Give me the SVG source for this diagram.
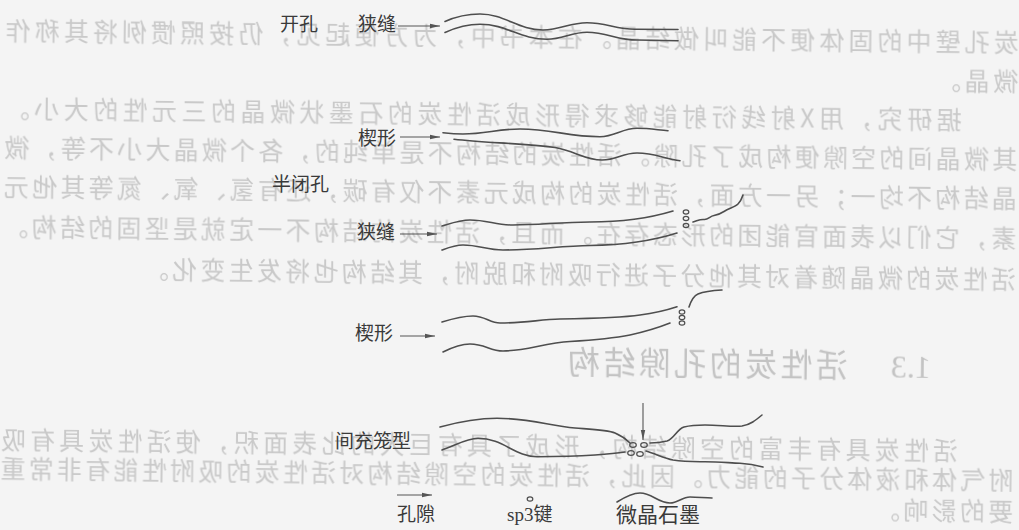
<svg xmlns="http://www.w3.org/2000/svg" width="1019" height="530" viewBox="0 0 1019 530">
  <defs>
    <marker id="ah" markerUnits="userSpaceOnUse" markerWidth="10" markerHeight="6" refX="10" refY="3" orient="auto">
      <path d="M0,0.8 L10,3 L0,5.2 Z" fill="#555"/>
    </marker>
    <filter id="soft" x="-5%" y="-5%" width="110%" height="110%">
      <feGaussianBlur stdDeviation="0.5"/>
    </filter>
  </defs>
  <style>
    .page{fill:#f4f4f4}
    .ghost{font-family:"Noto Sans CJK SC","Liberation Serif",sans-serif;font-size:25px;fill:#c9c9c9}
    .ghead{font-family:"Liberation Serif","Noto Sans CJK SC",serif;font-size:32px;fill:#c3c3c3}
    .sheet{fill:none;stroke:#4e4e4e;stroke-width:1.6;stroke-linecap:round}
    .bond{fill:none;stroke:#4e4e4e;stroke-width:1.2}
    .lbl{font-family:"Liberation Serif","Noto Sans CJK SC",serif;font-size:19px;fill:#3a3a3a}
    .arr{fill:none;stroke:#555;stroke-width:1.1;marker-end:url(#ah)}
  </style>

  <rect class="page" x="0" y="0" width="1019" height="530"/>

  <!-- show-through of the reverse side of the page (mirrored, slightly tilted) -->
  <g id="reverse-page" filter="url(#soft)" transform="rotate(0.67 509.5 265) matrix(-1 0 0 1 1019 0)">
    <text class="ghost" x="3" y="45.5" textLength="1013" lengthAdjust="spacing">炭孔壁中的固体便不能叫做结晶。在本书中，为方便起见，仍按照惯例将其称作</text>
    <text class="ghost" x="3" y="84.5" textLength="82" lengthAdjust="spacing">微晶。</text>
    <text class="ghost" x="59" y="123.5" textLength="957" lengthAdjust="spacing">据研究，用X射线衍射能够求得形成活性炭的石墨状微晶的三元性的大小。</text>
    <text class="ghost" x="3" y="162.5" textLength="1013" lengthAdjust="spacing">其微晶间的空隙便构成了孔隙。活性炭的结构不是单纯的，各个微晶大小不等，微</text>
    <text class="ghost" x="3" y="201.5" textLength="1013" lengthAdjust="spacing">晶结构不均一；另一方面，活性炭的构成元素不仅有碳，还有氢、氧、氮等其他元</text>
    <text class="ghost" x="3" y="241.5" textLength="1013" lengthAdjust="spacing">素，它们以表面官能团的形态存在。而且，活性炭的结构不一定就是坚固的结构。</text>
    <text class="ghost" x="3" y="282.5" textLength="872" lengthAdjust="spacing">活性炭的微晶随着对其他分子进行吸附和脱附，其结构也将发生变化。</text>
    <text class="ghead" x="87" y="373">1.3</text>
    <text class="ghead" x="170" y="373" textLength="280" lengthAdjust="spacing">活性炭的孔隙结构</text>
    <text class="ghost" x="59" y="454.5" textLength="957" lengthAdjust="spacing">活性炭具有丰富的空隙结构，形成了具有巨大的比表面积，使活性炭具有吸</text>
    <text class="ghost" x="3" y="483.5" textLength="1013" lengthAdjust="spacing">附气体和液体分子的能力。因此，活性炭的空隙结构对活性炭的吸附性能有非常重</text>
    <text class="ghost" x="3" y="514.5" textLength="138" lengthAdjust="spacing">要的影响。</text>
  </g>

  <!-- category headings -->
  <text class="lbl" x="280" y="31">开孔</text>
  <text class="lbl" x="272" y="191">半闭孔</text>

  <!-- open pore, slit -->
  <g id="open-slit">
    <text class="lbl" x="358" y="31">狭缝</text>
    <path class="sheet" d="M445,21.5 C455,17 468,14 480,14 C505,14 518,30 543,30 C561,30 569,22.7 587,22.7 C606,22.7 616,29.3 635,29.3 L678,29.5"/>
    <path class="sheet" d="M445,32.5 C455,28 468,24.3 480,24.3 C507,24.3 520,39.3 547,39.3 C563,39.3 571,32.3 587,32.3 C607,32.3 617,40 637,40 L678,40.7"/>
  </g>

  <!-- open pore, wedge -->
  <g id="open-wedge">
    <text class="lbl" x="358" y="145">楔形</text>
    <path class="sheet" d="M443,132.7 C450,133.5 456,134 463,134 C486,134 497,129 520,129 C552,129 568,136.7 600,136.7 C615,136.7 622,128.3 637,128.3 C650,128.3 658,130 668,130.7"/>
    <path class="sheet" d="M454,139.3 C485,143 520,143 555,147.5 C575,151 585,160 602,160 C617,160 622,153 637,153 C655,153 665,159 680,160.7"/>
  </g>

  <!-- semi-closed pore, slit -->
  <g id="semi-slit">
    <text class="lbl" x="357" y="239">狭缝</text>
    <path class="sheet" d="M442,226 C452,223 460,220 470,220 C487,220 496,225 513,225 C540,225 560,222 590,222 C620,222 650,218 673,211"/>
    <path class="sheet" d="M442,250 C450,247 455,245 463,245 C479,245 487,250 503,250 C535,250 560,246 590,245.5 C625,245 655,240 677,233"/>
    <ellipse class="bond" cx="686" cy="212" rx="2.8" ry="2.1"/>
    <ellipse class="bond" cx="686" cy="218.5" rx="2.8" ry="2.1"/>
    <ellipse class="bond" cx="686" cy="225.5" rx="2.8" ry="2.1"/>
    <path class="sheet" d="M693,222 C697,221 700,219 704,219.5 C708,220 710,216 714,215.5 C718,215 720,214 724,211.5 C730,208 735,207 738,204 C741,201 742,198 743,195"/>
  </g>

  <!-- semi-closed pore, wedge -->
  <g id="semi-wedge">
    <text class="lbl" x="355" y="340">楔形</text>
    <path class="sheet" d="M442,322 C455,318 463,316 473,316 C485,316 490,323 500,323 C525,323 540,319.5 560,319 C590,318.5 620,318 640,315 C655,313 667,310 677,306.7"/>
    <path class="sheet" d="M443,352 C453,347 461,344 470,344 C485,344 490,351 503,351 C525,351 545,343 570,341.5 C595,340 615,338 630,335 C648,331 660,327 670,323"/>
    <ellipse class="bond" cx="682" cy="312" rx="2.8" ry="2.1"/>
    <ellipse class="bond" cx="682" cy="317.5" rx="2.8" ry="2.1"/>
    <ellipse class="bond" cx="682" cy="323" rx="2.8" ry="2.1"/>
    <path class="sheet" d="M689,307 C691,301 693,296 698,294 C704,291.5 712,290.5 722,290"/>
  </g>

  <!-- interstitial cage -->
  <g id="interstitial-cage">
    <text class="lbl" x="335" y="448">间充笼型</text>
    <path class="sheet" d="M440,427 C462,421 480,418.3 497,418.3 C530,418.3 550,426 575,428 C595,429.5 608,430 615,433 C622,436 627,440 630,443"/>
    <path class="sheet" d="M442,450 C458,444 468,438.3 478,438.3 C503,438.3 515,456.7 537,456.7 C560,456.7 580,456 595,455 C608,454 618,453 625,452"/>
    <path class="sheet" d="M650,443 C658,443 663,442 667,441 C674,439 677,429 684,427 C692,425 698,425 705,425 C720,425 732,427 742,426 C750,425 756,420 762,415"/>
    <path class="sheet" d="M646,451 C656,454 664,458 673,460 C685,462 695,461.7 705,461.7 C720,461.7 730,463 740,463.3 C750,464 757,465.5 763,467"/>
    <ellipse class="bond" cx="633" cy="445" rx="3.3" ry="2.3"/>
    <ellipse class="bond" cx="644" cy="445" rx="3.3" ry="2.3"/>
    <ellipse class="bond" cx="631" cy="453" rx="3.3" ry="2.3"/>
    <ellipse class="bond" cx="640" cy="454" rx="3.3" ry="2.3"/>
  </g>

  <!-- legend -->
  <g id="legend-pore">
    <text class="lbl" x="397" y="521">孔隙</text>
  </g>
  <g id="legend-sp3">
    <ellipse class="bond" cx="530" cy="499" rx="2.8" ry="2.1"/>
    <text class="lbl" x="507" y="521">sp3键</text>
  </g>
  <g id="legend-graphite">
    <path class="sheet" d="M617,502 C625,497 632,493 640,493 C652,493 658,503 670,503 C678,503 682,497 690,497 C698,497 705,498 712,498"/>
    <text class="lbl" x="616" y="522" style="font-size:21px">微晶石墨</text>
  </g>

  <!-- pointer arrows -->
  <g id="connectors">
    <line class="arr" x1="398" y1="26" x2="440" y2="26"/>
    <line class="arr" x1="400" y1="137" x2="440" y2="137"/>
    <line class="arr" x1="400" y1="234" x2="437" y2="234"/>
    <line class="arr" x1="400" y1="336" x2="435" y2="336"/>
    <line class="arr" x1="643" y1="403" x2="643" y2="440"/>
    <line class="arr" x1="397" y1="495" x2="432" y2="495"/>
  </g>
</svg>
